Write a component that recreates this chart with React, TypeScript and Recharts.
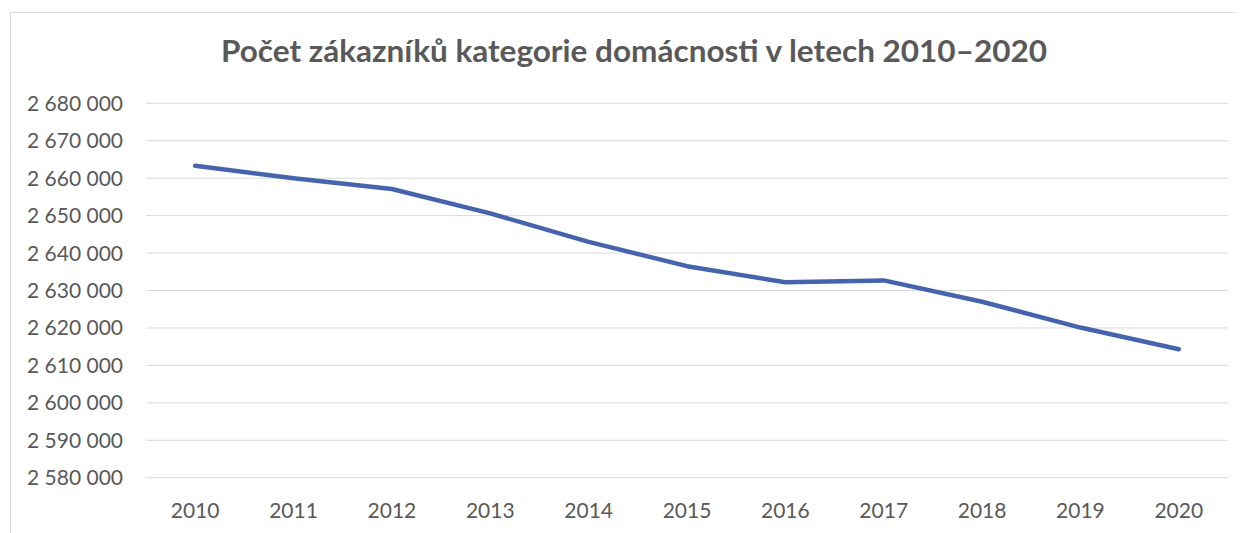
import React from 'react';
import { LineChart, Line, XAxis, YAxis, CartesianGrid } from 'recharts';

const years = ['2010', '2011', '2012', '2013', '2014', '2015', '2016', '2017', '2018', '2019', '2020'];
const customers = [2663300, 2660000, 2657100, 2650600, 2643000, 2636500, 2632200, 2632700, 2627000, 2620100, 2614300];
const yTicks = [2580000, 2590000, 2600000, 2610000, 2620000, 2630000, 2640000, 2650000, 2660000, 2670000, 2680000];

const title = 'Počet zákazníků kategorie domácnosti v letech 2010–2020';

const data = years.map((year, i) => ({ year, value: customers[i] }));

// "2 680 000" style, space as thousands separator
const fmt = (v: number) => String(v).replace(/\B(?=(\d{3})+(?!\d))/g, ' ');

const FONT = 'Lato, "Open Sans", sans-serif';
const TEXT = '#595959';

export default function App() {
    return (
        <div style={{ position: 'relative', width: 1235, height: 525, overflow: 'hidden' }}>
            {/* chart frame */}
            <div
                style={{
                    position: 'absolute',
                    left: 2,
                    top: 4,
                    width: 1300,
                    height: 600,
                    borderTop: '1px solid #d9d9d9',
                    borderLeft: '1px solid #d9d9d9',
                }}
            />
            <svg width={1235} height={80} style={{ position: 'absolute', left: 0, top: 0 }}>
                <text
                    x={626}
                    y={54}
                    textAnchor="middle"
                    fontFamily={FONT}
                    fontWeight={700}
                    fontSize={30}
                    fill={TEXT}
                    textLength={826}
                    lengthAdjust="spacingAndGlyphs"
                >
                    {title}
                </text>
            </svg>
            <div style={{ position: 'absolute', left: 0, top: 0 }}>
                <LineChart
                    width={1235}
                    height={525}
                    data={data}
                    margin={{ top: 95.3, right: 15, bottom: 15.3, left: 0 }}
                >
                    <CartesianGrid vertical={false} stroke="#d9d9d9" strokeWidth={1} />
                    <XAxis
                        dataKey="year"
                        axisLine={false}
                        tickLine={false}
                        tickSize={0}
                        tickMargin={25}
                        height={40}
                        interval={0}
                        padding={{ left: 49.2, right: 49.2 }}
                        tick={{ fill: TEXT, fontSize: 21, fontFamily: FONT }}
                    />
                    <YAxis
                        domain={[2580000, 2680000]}
                        ticks={yTicks}
                        axisLine={false}
                        tickLine={false}
                        tickSize={0}
                        tickMargin={23}
                        width={138}
                        tickFormatter={fmt}
                        tick={{ fill: TEXT, fontSize: 21, fontFamily: FONT }}
                    />
                    <Line
                        type="linear"
                        dataKey="value"
                        stroke="#4564AD"
                        strokeWidth={4.5}
                        strokeLinecap="round"
                        strokeLinejoin="round"
                        dot={false}
                        activeDot={false}
                        isAnimationActive={false}
                    />
                </LineChart>
            </div>
        </div>
    );
}
